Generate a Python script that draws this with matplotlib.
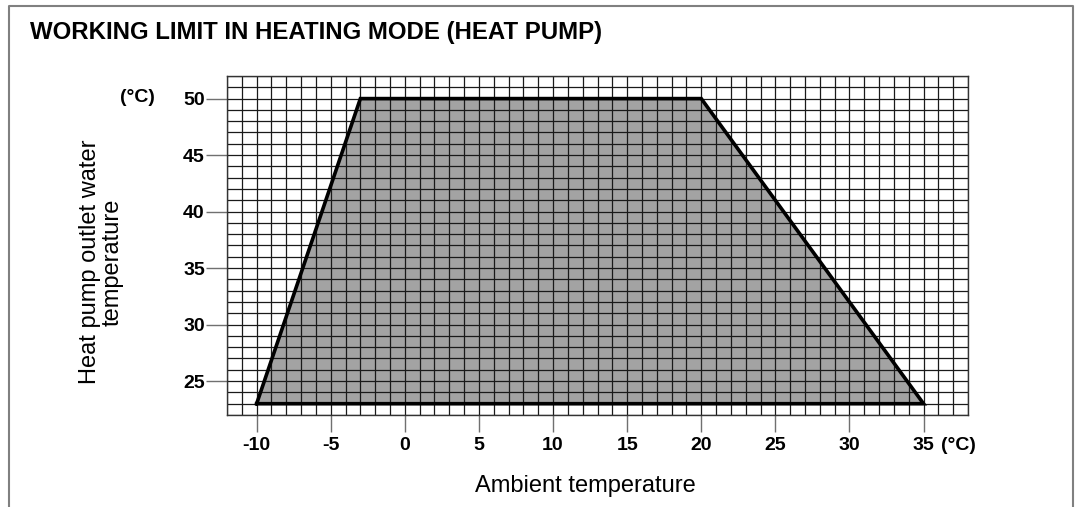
import matplotlib
matplotlib.use("Agg")
import matplotlib.pyplot as plt
from matplotlib.ticker import MultipleLocator
from matplotlib.lines import Line2D

plt.rcParams['font.family'] = ['Liberation Sans', 'DejaVu Sans']

# operating envelope corners (ambient temp, outlet water temp)
ambient = [-10, -3, 20, 35]
outlet = [23, 50, 50, 23]

x_ticks = [-10, -5, 0, 5, 10, 15, 20, 25, 30, 35]
y_ticks = [25, 30, 35, 40, 45, 50]

W, H = 1079, 507
fig = plt.figure(figsize=(W / 100, H / 100), dpi=100)

# grey frame round the panel, open at the bottom
fig.add_artist(Line2D([9 / W, 9 / W, 1073 / W, 1073 / W],
                      [0, 1 - 6 / H, 1 - 6 / H, 0],
                      transform=fig.transFigure, color='#808080', lw=1.5))

fig.text(30 / W, 1 - 33 / H, "WORKING LIMIT IN HEATING MODE (HEAT PUMP)",
         fontsize=17.3, fontweight='bold', va='center', ha='left')

left, right, top, bottom = 227 / W, 968 / W, 1 - 76 / H, 1 - 415 / H
ax = fig.add_axes([left, bottom, right - left, top - bottom])

ax.fill(ambient + [ambient[0]], outlet + [outlet[0]], color='#a3a3a3', zorder=1)
ax.plot(ambient + [ambient[0]], outlet + [outlet[0]], color='black', lw=2.6,
        zorder=4, solid_joinstyle='miter')

ax.set_xlim(-12, 38)
ax.set_ylim(22, 52)
ax.xaxis.set_minor_locator(MultipleLocator(1))
ax.yaxis.set_minor_locator(MultipleLocator(1))
ax.set_xticks(x_ticks)
ax.set_yticks(y_ticks)
ax.set_xticklabels([str(v) for v in x_ticks], fontweight='bold', fontsize=14)
ax.set_yticklabels([str(v) for v in y_ticks], fontweight='bold', fontsize=14)
ax.grid(which='both', color='#1a1a1a', lw=0.9, zorder=2)
ax.tick_params(which='minor', length=0)
ax.tick_params(axis='x', which='major', length=12, width=1, color='#707070', pad=4)
ax.tick_params(axis='y', which='major', length=15, width=1, color='#707070', pad=1)
for s in ax.spines.values():
    s.set_color('#333333')
    s.set_linewidth(1)

# unit after the last x tick label, same baseline as the tick labels
ax.annotate("(°C)", xy=(x_ticks[-1], 0), xycoords=('data', 'axes fraction'),
            xytext=(12.5, -16), textcoords='offset points',
            fontsize=14, fontweight='bold', ha='left', va='top')
fig.text(137 / W, 1 - 98 / H, "(°C)", fontsize=14, fontweight='bold',
         ha='center', va='center')

fig.text(585 / W, 1 - 486 / H, "Ambient temperature", fontsize=17,
         ha='center', va='center')
fig.text(101 / W, 1 - 262 / H, "Heat pump outlet water\ntemperature",
         fontsize=17, rotation=90, ha='center', va='center',
         multialignment='center', linespacing=1.05)

fig.savefig("out.png", dpi=100)
